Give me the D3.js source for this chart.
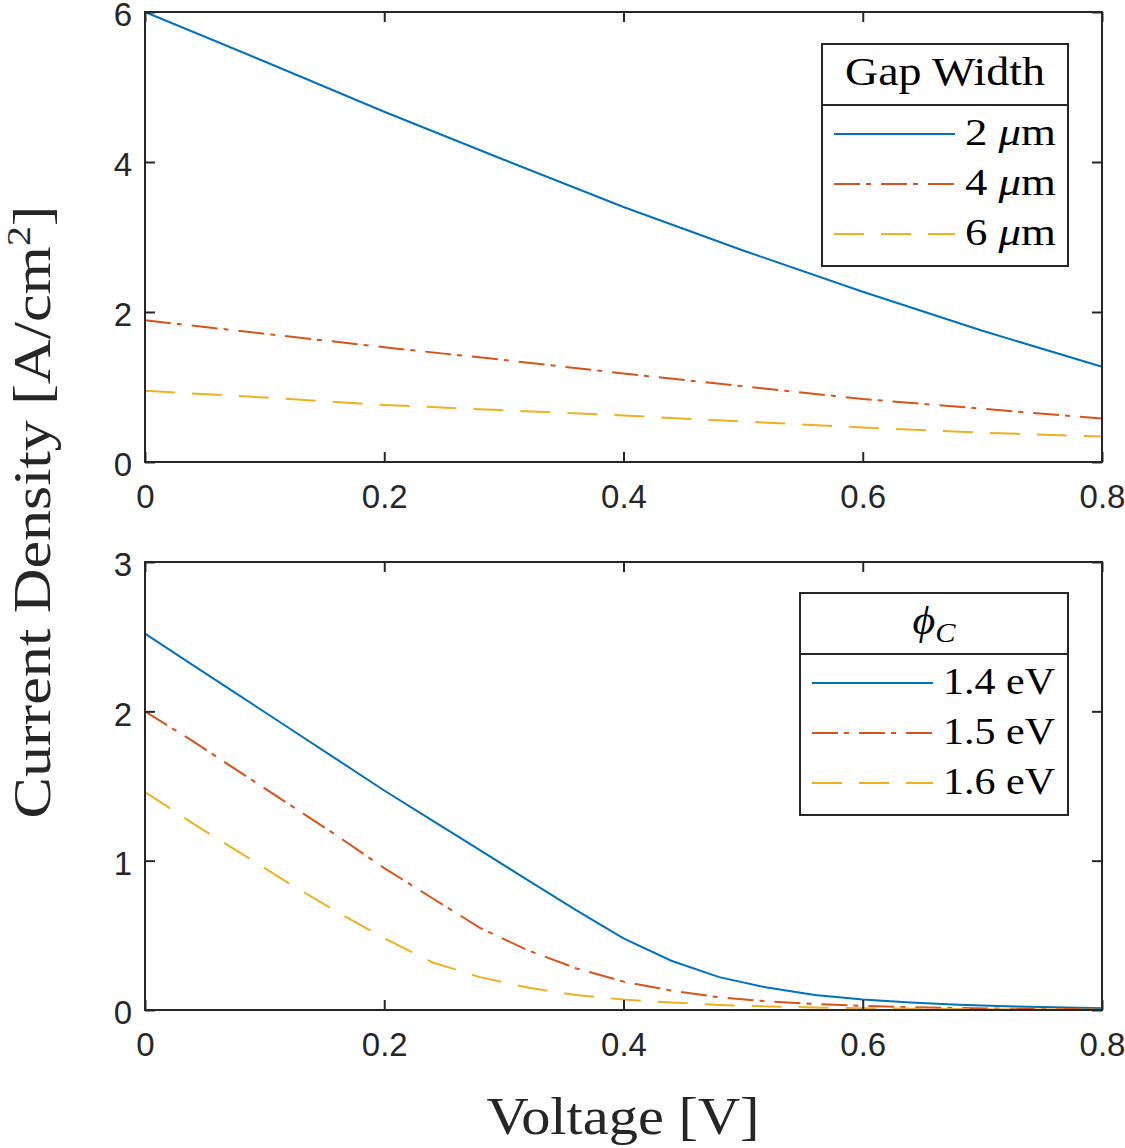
<!DOCTYPE html>
<html>
<head>
<meta charset="utf-8">
<script src="https://cdn.jsdelivr.net/npm/d3@7"></script>
<style>
  body { margin: 0; background: #fff; }
  svg { display: block; }
</style>
</head>
<body>
<script>
// ---- data ----
const xTicks = [0, 0.2, 0.4, 0.6, 0.8];
const topYTicks = [0, 2, 4, 6];
const botYTicks = [0, 1, 2, 3];

// top panel: gap width series
const gapVoltage = [0, 0.1, 0.2, 0.3, 0.4, 0.5, 0.6, 0.7, 0.8];
const gap2um = [6.0, 5.34, 4.67, 4.03, 3.40, 2.82, 2.27, 1.75, 1.27];
const gap4um = [1.89, 1.71, 1.53, 1.36, 1.18, 1.01, 0.84, 0.71, 0.58];
const gap6um = [0.95, 0.86, 0.76, 0.69, 0.62, 0.54, 0.46, 0.39, 0.34];
const gapNames = ["2", "4", "6"];

// bottom panel: collector work function series
const phiVoltage = [0, 0.04, 0.08, 0.12, 0.16, 0.2, 0.24, 0.28, 0.32, 0.36, 0.4,
  0.44, 0.48, 0.52, 0.56, 0.6, 0.64, 0.68, 0.72, 0.76, 0.8];
const phi14 = [2.52, 2.31, 2.10, 1.89, 1.68, 1.47, 1.27, 1.07, 0.87, 0.67, 0.48,
  0.33, 0.22, 0.15, 0.10, 0.07, 0.05, 0.035, 0.025, 0.018, 0.012];
const phi15 = [2.0, 1.8, 1.59, 1.38, 1.17, 0.95, 0.75, 0.55, 0.40, 0.28, 0.19,
  0.13, 0.085, 0.058, 0.04, 0.027, 0.019, 0.013, 0.009, 0.006, 0.004];
const phi16 = [1.46, 1.25, 1.05, 0.85, 0.66, 0.48, 0.32, 0.22, 0.15, 0.10, 0.07,
  0.05, 0.034, 0.024, 0.017, 0.012, 0.008, 0.006, 0.004, 0.003, 0.002];
const phiNames = ["1.4 eV", "1.5 eV", "1.6 eV"];

// ---- styles ----
const colors = ["#0072BD", "#D95319", "#EDB120"];
const dashes = [null, "26,6,5,10", "30,17"];
const axisColor = "#262626";
const sansFont = "'Liberation Sans', Arial, sans-serif";
const serifFont = "'Liberation Serif', 'Times New Roman', serif";

const width = 1125, height = 1148;
const svg = d3.select("body").append("svg")
  .attr("width", width)
  .attr("height", height);

const x = d3.scaleLinear().domain([0, 0.8]).range([145, 1102]);

function drawPanel(yDomain, yRange, yTicks, xs, seriesList) {
  const y = d3.scaleLinear().domain(yDomain).range(yRange);
  const g = svg.append("g");

  const line = d3.line()
    .x(d => x(d[0]))
    .y(d => y(d[1]));

  seriesList.forEach((vals, i) => {
    g.append("path")
      .datum(xs.map((v, j) => [v, vals[j]]))
      .attr("fill", "none")
      .attr("stroke", colors[i])
      .attr("stroke-width", 2)
      .attr("stroke-dasharray", dashes[i])
      .attr("d", line);
  });

  // box
  g.append("rect")
    .attr("x", x.range()[0])
    .attr("y", y.range()[1])
    .attr("width", x.range()[1] - x.range()[0])
    .attr("height", y.range()[0] - y.range()[1])
    .attr("fill", "none")
    .attr("stroke", axisColor)
    .attr("stroke-width", 2);

  // axes with inward ticks
  const tickLen = 10;
  g.append("g")
    .attr("transform", `translate(0,${y.range()[0]})`)
    .call(d3.axisBottom(x).tickValues(xTicks).tickSize(-tickLen).tickPadding(23)
      .tickFormat(d => d === 0 ? "0" : d3.format(".1f")(d)));
  g.append("g")
    .attr("transform", `translate(0,${y.range()[1]})`)
    .call(d3.axisTop(x).tickValues(xTicks).tickSize(-tickLen).tickFormat(""));
  const yAxis = g.append("g")
    .attr("transform", `translate(${x.range()[0]},0)`)
    .call(d3.axisLeft(y).tickValues(yTicks).tickSize(-tickLen).tickPadding(13)
      .tickFormat(d3.format("d")));
  yAxis.selectAll(".tick text").attr("dy", "0.42em");
  g.append("g")
    .attr("transform", `translate(${x.range()[1]},0)`)
    .call(d3.axisRight(y).tickValues(yTicks).tickSize(-tickLen).tickFormat(""));

  g.selectAll(".domain").remove();
  g.selectAll(".tick line").attr("stroke", axisColor).attr("stroke-width", 2);
  g.selectAll(".tick text")
    .attr("fill", axisColor)
    .style("font-family", sansFont)
    .style("font-size", "33px");
  return g;
}

drawPanel([0, 6], [462, 12], topYTicks, gapVoltage, [gap2um, gap4um, gap6um]);
drawPanel([0, 3], [1010, 562], botYTicks, phiVoltage, [phi14, phi15, phi16]);

// ---- legends ----
function drawLegend(box, titleFn, titleLen, labelFns, labelLen) {
  const g = svg.append("g");
  g.append("rect")
    .attr("x", box.x).attr("y", box.y)
    .attr("width", box.w).attr("height", box.h)
    .attr("fill", "#fff")
    .attr("stroke", axisColor)
    .attr("stroke-width", 2);
  g.append("line")
    .attr("x1", box.x).attr("x2", box.x + box.w)
    .attr("y1", box.y + 61).attr("y2", box.y + 61)
    .attr("stroke", axisColor).attr("stroke-width", 2);

  const title = g.append("text")
    .attr("x", box.x + box.w / 2)
    .attr("y", box.y + 41)
    .attr("text-anchor", "middle")
    .attr("textLength", titleLen)
    .attr("lengthAdjust", "spacingAndGlyphs")
    .style("font-family", serifFont)
    .style("font-size", "39px")
    .attr("fill", "#000");
  titleFn(title);

  labelFns.forEach((fn, i) => {
    const yy = box.y + 90 + i * 50;
    g.append("line")
      .attr("x1", box.x + 12).attr("x2", box.x + 133)
      .attr("y1", yy).attr("y2", yy)
      .attr("stroke", colors[i])
      .attr("stroke-width", 2)
      .attr("stroke-dasharray", dashes[i]);
    const t = g.append("text")
      .attr("x", box.x + 143)
      .attr("y", yy + 11)
      .attr("textLength", labelLen)
      .attr("lengthAdjust", "spacingAndGlyphs")
      .style("font-family", serifFont)
      .style("font-size", "38px")
      .attr("fill", "#000");
    fn(t);
  });
}

drawLegend({x: 822, y: 44, w: 246, h: 222},
  t => t.text("Gap Width"), 200,
  gapNames.map(n => t => {
    t.append("tspan").text(n + " ");
    t.append("tspan").style("font-style", "italic").text("μ");
    t.append("tspan").text("m");
  }), 91);

drawLegend({x: 800, y: 593, w: 268, h: 222},
  t => {
    t.append("tspan").style("font-style", "italic").text("ϕ");
    t.append("tspan").style("font-style", "italic").style("font-size", "27px")
      .attr("dy", 8).text("C");
  }, 43,
  phiNames.map(n => t => t.text(n)), 112);

// ---- axis labels ----
svg.append("text")
  .attr("x", 623)
  .attr("y", 1134)
  .attr("text-anchor", "middle")
  .attr("textLength", 273)
  .attr("lengthAdjust", "spacingAndGlyphs")
  .style("font-family", serifFont)
  .style("font-size", "53px")
  .attr("fill", axisColor)
  .text("Voltage [V]");

const yl = svg.append("text")
  .attr("transform", "translate(50,512) rotate(-90)")
  .attr("text-anchor", "middle")
  .attr("textLength", 613)
  .attr("lengthAdjust", "spacingAndGlyphs")
  .style("font-family", serifFont)
  .style("font-size", "53px")
  .attr("fill", axisColor);
yl.append("tspan").text("Current Density [A/cm");
yl.append("tspan").attr("dy", -20).style("font-size", "34px").text("2");
yl.append("tspan").attr("dy", 20).text("]");
</script>
</body>
</html>
